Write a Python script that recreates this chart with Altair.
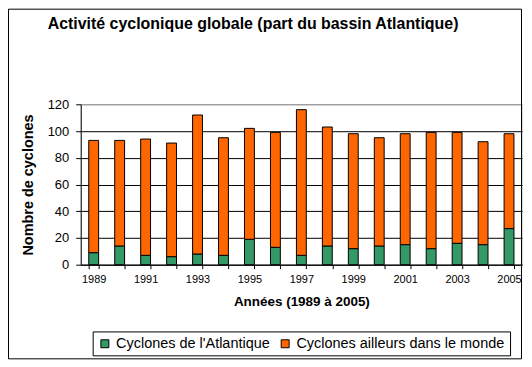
import altair as alt
import pandas as pd

years = [str(y) for y in range(1989, 2006)]
atlantique = [9, 14, 7, 6, 8, 7, 19, 13, 7, 14, 12, 14, 15, 12, 16, 15, 27]
totals = [93, 93, 94, 91, 112, 95, 102, 99, 116, 103, 98, 95, 98, 99, 99, 92, 98]
series = ["Cyclones de l'Atlantique", "Cyclones ailleurs dans le monde"]
colors = ["#339966", "#FF6600"]

rows = []
for y, a, t in zip(years, atlantique, totals):
    rows.append({"annee": y, "serie": series[0], "valeur": a, "ordre": 0})
    rows.append({"annee": y, "serie": series[1], "valeur": t - a, "ordre": 1})
df = pd.DataFrame(rows)

FONT = "Liberation Sans"
W, H = 443, 161

bars = alt.Chart(df).mark_bar(stroke="black", strokeWidth=1).encode(
    x=alt.X("annee:N", title="Années (1989 à 2005)",
            scale=alt.Scale(paddingInner=0.62, paddingOuter=0.31),
            axis=alt.Axis(labelAngle=0, tickBand="extent", tickSize=4,
                          labelExpr="parseInt(datum.label) % 2 == 1 ? datum.label : ''",
                          labelFontSize=11, labelPadding=5, titlePadding=10,
                          titleFont=FONT, titleFontSize=13.5, titleFontWeight="bold",
                          domainColor="black", tickColor="black")),
    y=alt.Y("valeur:Q", title="Nombre de cyclones", stack="zero",
            scale=alt.Scale(domain=[0, 120], nice=False),
            axis=alt.Axis(values=[0, 20, 40, 60, 80, 100, 120], tickSize=5,
                          labelFontSize=13, labelPadding=7, titlePadding=12,
                          titleFont=FONT, titleFontSize=14.5, titleFontWeight="bold",
                          grid=True,
                          gridColor={"condition": {"test": "datum.value == 120", "value": "#808080"}, "value": "black"},
                          domainColor="black", tickColor="black")),
    color=alt.Color("serie:N", scale=alt.Scale(domain=series, range=colors),
                    legend=alt.Legend(title=None, orient="none", legendX=12, legendY=228,
                                      direction="horizontal", strokeColor="black",
                                      fillColor="white", padding=5,
                                      symbolType="square", symbolSize=64,
                                      symbolStrokeColor="black", symbolStrokeWidth=1,
                                      labelFontSize=14.5, labelFont=FONT, columnPadding=8,
                                      labelLimit=300)),
    order=alt.Order("ordre:Q"),
)

border = alt.Chart(pd.DataFrame({"k": [0]})).mark_rect(
    fill=None, stroke="black", strokeWidth=1).encode(
    x=alt.value(-72.5), x2=alt.value(442.5), y=alt.value(-95.5), y2=alt.value(255.5))

title = alt.Chart(pd.DataFrame({"t": ["Activité cyclonique globale (part du bassin Atlantique)"]})).mark_text(
    font=FONT, fontSize=16, fontWeight="bold", color="black", baseline="alphabetic", align="center").encode(
    text="t:N", x=alt.value(173), y=alt.value(-76))

chart = alt.layer(border, bars, title).properties(
    width=W, height=H,
    autosize=alt.AutoSizeParams(type="none"),
    padding={"left": 73, "top": 96, "right": 2, "bottom": 96},
).configure_view(fill="#CCFFFF", stroke="#808080", strokeWidth=1).configure_axis(
    labelFont=FONT, labelColor="black", titleColor="black", gridWidth=1
).configure(background="white")

chart.save("out.html", embed_options={"renderer": "svg", "actions": False})
